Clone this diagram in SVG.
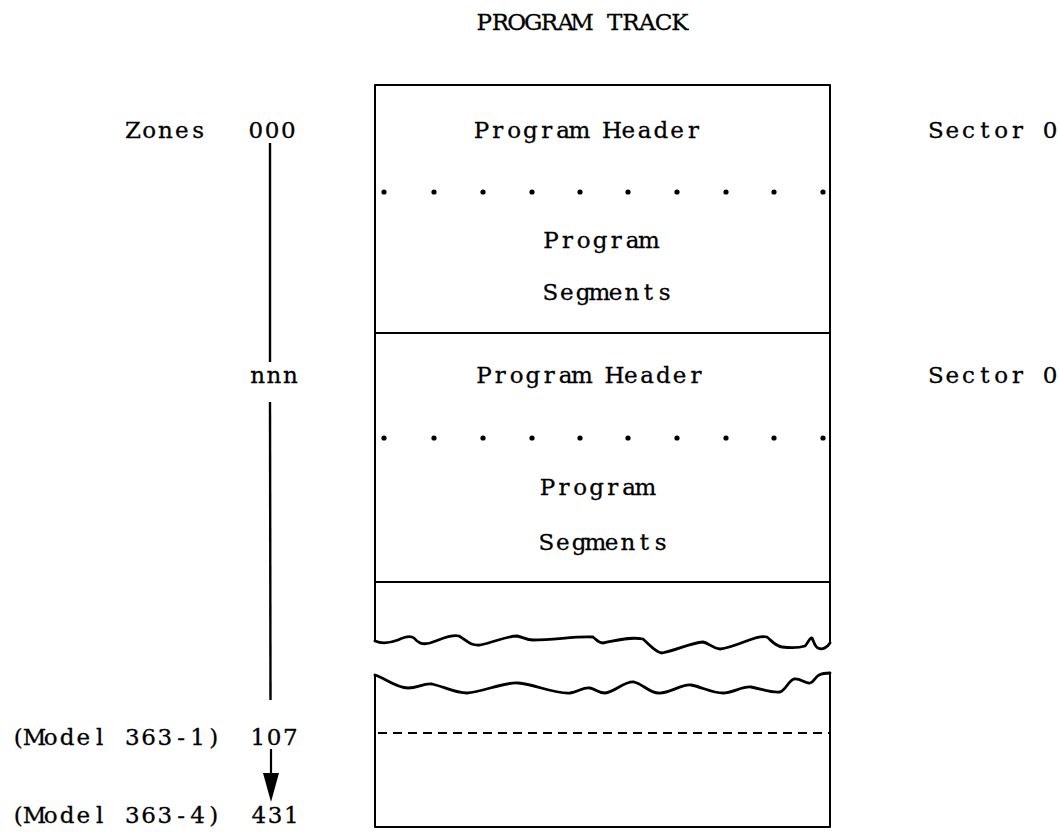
<svg xmlns="http://www.w3.org/2000/svg" width="1059" height="832" viewBox="0 0 1059 832">
<style>
text{font-family:"DejaVu Serif","Liberation Serif",serif;font-size:23px;fill:#000;stroke:#000;stroke-width:0.3;text-anchor:middle}
.ln{fill:none;stroke:#000;stroke-width:2;stroke-linejoin:round;stroke-linecap:round}
.wv{fill:none;stroke:#000;stroke-width:2.8;stroke-linejoin:round;stroke-linecap:round}
.dot{fill:#000}
</style>
<defs>
<g id="dotrow">
<circle class="dot" cx="384" cy="0" r="2.6"/><circle class="dot" cx="434" cy="0" r="2.6"/><circle class="dot" cx="483" cy="0" r="2.6"/><circle class="dot" cx="532" cy="0" r="2.6"/><circle class="dot" cx="580" cy="0" r="2.6"/><circle class="dot" cx="628" cy="0" r="2.6"/><circle class="dot" cx="677" cy="0" r="2.6"/><circle class="dot" cx="726" cy="0" r="2.6"/><circle class="dot" cx="774" cy="0" r="2.6"/><circle class="dot" cx="823" cy="0" r="2.6"/>
</g>
</defs>
<rect width="1059" height="832" fill="#fff"/>
<g id="title"><text x="484.2 500.5 516.8 533.1 549.4 565.7 582 598.3 614.6 630.9 647.2 663.5 679.8" y="30">PROGRAM TRACK</text></g>
<g id="zone-labels">
<text x="132.9 149.2 165.5 181.8 198.1" y="138">Zones</text>
<text x="255.7 272 288.3" y="138">000</text>
<text x="257.7 274 290.3" y="383">nnn</text>
<text x="18.2 34.5 50.8 67.1 83.4 99.7 116 132.3 148.6 164.9 181.2 197.5 213.8" y="745">(Model 363-1)</text>
<text x="257.7 274 290.3" y="745">107</text>
<text x="18.2 34.5 50.8 67.1 83.4 99.7 116 132.3 148.6 164.9 181.2 197.5 213.8" y="823">(Model 363-4)</text>
<text x="258.7 275 291.3" y="823">431</text>
</g>
<g id="sector-labels">
<text x="935.95 952.25 968.55 984.85 1001.15 1017.45 1033.75 1050.05" y="138">Sector 0</text>
<text x="935.95 952.25 968.55 984.85 1001.15 1017.45 1033.75 1050.05" y="383">Sector 0</text>
</g>
<g id="block1">
<polyline class="ln" points="375,641 375,85 830,85 830,643"/>
<text x="481.55 497.85 514.15 530.45 546.75 563.05 579.35 595.65 611.95 628.25 644.55 660.85 677.15 693.45" y="138">Program Header</text>
<use href="#dotrow" y="192"/>
<text x="551.1 567.4 583.7 600 616.3 632.6 648.9" y="248">Program</text>
<text x="550.45 566.75 583.05 599.35 615.65 631.95 648.25 664.55" y="300">Segments</text>
<line class="ln" x1="375" y1="333" x2="830" y2="333"/>
</g>
<g id="block2">
<text x="484.05 500.35 516.65 532.95 549.25 565.55 581.85 598.15 614.45 630.75 647.05 663.35 679.65 695.95" y="383">Program Header</text>
<use href="#dotrow" y="438"/>
<text x="547.6 563.9 580.2 596.5 612.8 629.1 645.4" y="495">Program</text>
<text x="546.45 562.75 579.05 595.35 611.65 627.95 644.25 660.55" y="550">Segments</text>
<line class="ln" x1="375" y1="582" x2="830" y2="582"/>
</g>
<g id="break-top">
<path class="wv" d="M375,641 C382,644 390,643 398,640 C404,637 410,635 414,638 C418,643 422,645 430,643 C440,640 450,634 459,636 C466,640 470,646 480,645 C495,642 507,636 517,636 C523,637 526,640 533,640 C555,640 575,636 593,637 C597,640 598,643 603,643 C615,641 630,636 643,639 C650,645 655,652 662,653 C677,650 690,643 703,642 C709,643 712,648 720,649 C738,647 756,634 767,637 C772,641 775,646 782,647 C790,648 799,648 805,646 C808,643 810,637 812,638 C814,642 815,647 818,648 C822,650 827,648 830,643"/>
</g>
<g id="break-bottom">
<path class="wv" d="M375,675 C385,678 396,688 408,688 C418,688 423,683 432,684 C445,687 455,693 467,693 C483,692 503,682 518,683 C535,684 553,694 570,693 C578,692 583,687 590,688 C596,689 598,693 605,693 C615,692 624,681 634,682 C643,684 648,692 658,693 C670,694 680,684 691,685 C702,687 712,693 723,693 C733,693 742,686 751,687 C762,689 771,693 780,692 C786,690 788,681 794,679 C800,678 806,684 810,683 C814,682 815,677 819,675 C823,673 826,673 830,673"/>
<polyline class="ln" points="375,675 375,827 830,827 830,673"/>
<line x1="378" y1="733" x2="830" y2="733" stroke="#000" stroke-width="2.2" stroke-dasharray="9 6"/>
</g>
<g id="connectors">
<line x1="270" y1="143" x2="270" y2="362" stroke="#000" stroke-width="2.4"/>
<line x1="270" y1="402" x2="270.5" y2="700" stroke="#000" stroke-width="2.4"/>
<line x1="271" y1="749" x2="271" y2="776" stroke="#000" stroke-width="2.2"/>
<polygon points="263,773 279,773 271,802" fill="#000"/>
</g>
</svg>
